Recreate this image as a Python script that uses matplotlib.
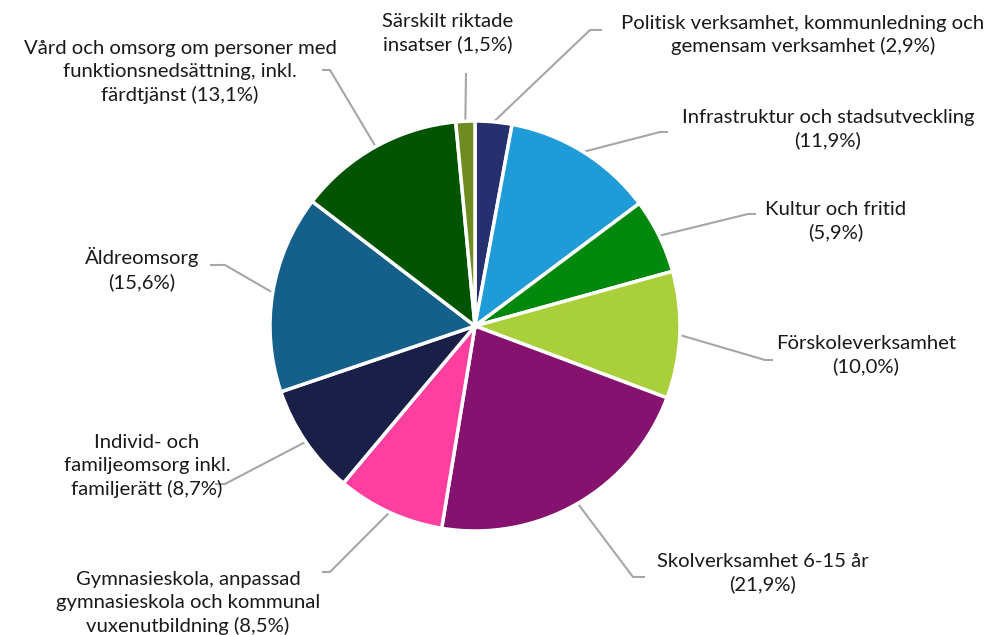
import numpy as np
import matplotlib.pyplot as plt

plt.rcParams['font.family'] = ['Lato', 'DejaVu Sans']

labels = [
    "Politisk verksamhet, kommunledning och\ngemensam verksamhet (2,9%)",
    "Infrastruktur och stadsutveckling\n(11,9%)",
    "Kultur och fritid\n(5,9%)",
    "Förskoleverksamhet\n(10,0%)",
    "Skolverksamhet 6-15 år\n(21,9%)",
    "Gymnasieskola, anpassad\ngymnasieskola och kommunal\nvuxenutbildning (8,5%)",
    "Individ- och\nfamiljeomsorg inkl.\nfamiljerätt (8,7%)",
    "Äldreomsorg\n(15,6%)",
    "Vård och omsorg om personer med\nfunktionsnedsättning, inkl.\nfärdtjänst (13,1%)",
    "Särskilt riktade\ninsatser (1,5%)",
]
values = [2.9, 11.9, 5.9, 10.0, 21.9, 8.5, 8.7, 15.6, 13.1, 1.5]
colors = ["#27306f", "#1f9cd8", "#02880c", "#a9d03b", "#85126f",
          "#ff3fa0", "#1a1f48", "#14608a", "#025402", "#6e8c22"]

# layout in pixel coords (y down): label centre, elbow, end of horizontal
label_pos = [(803, 35), (828, 129), (836, 221), (866, 355), (763, 573),
             (188, 603), (147, 466), (142, 269), (180, 72), (448, 33)]
elbows = [(590, 30, 602), (660, 132, 668), (748, 214, 756), (765, 360, 773),
          (633, 577, 645), (330, 572, 322), (225, 484, 215), (225, 265, 210),
          (330, 70, 322), (466, 73, 466)]

W, H = 992, 635
cx, cy, r = 475, 326, 205
Y = lambda y: H - y

fig = plt.figure(figsize=(W / 100, H / 100), dpi=100)
ax = fig.add_axes([0, 0, 1, 1])

wedges, _ = ax.pie(values, colors=colors, startangle=90, counterclock=False,
                   center=(cx, Y(cy)), radius=r,
                   wedgeprops=dict(edgecolor='white', linewidth=2.5))

ax.set_xlim(0, W)
ax.set_ylim(0, H)
ax.set_aspect('equal')
ax.axis('off')

for w, lab, (lx, ly), (ex, ey, hx) in zip(wedges, labels, label_pos, elbows):
    ang = np.deg2rad((w.theta1 + w.theta2) / 2)
    sx = cx + r * np.cos(ang)
    sy = Y(cy) + r * np.sin(ang)
    ax.plot([sx, ex, hx], [sy, Y(ey), Y(ey)], color='#a6a6a6', lw=1.5,
            solid_capstyle='butt', zorder=0)
    ax.text(lx, Y(ly), lab, ha='center', va='center', fontsize=14.6,
            color='#1a1a1a', linespacing=1.38)

fig.savefig('out.png', dpi=100)
